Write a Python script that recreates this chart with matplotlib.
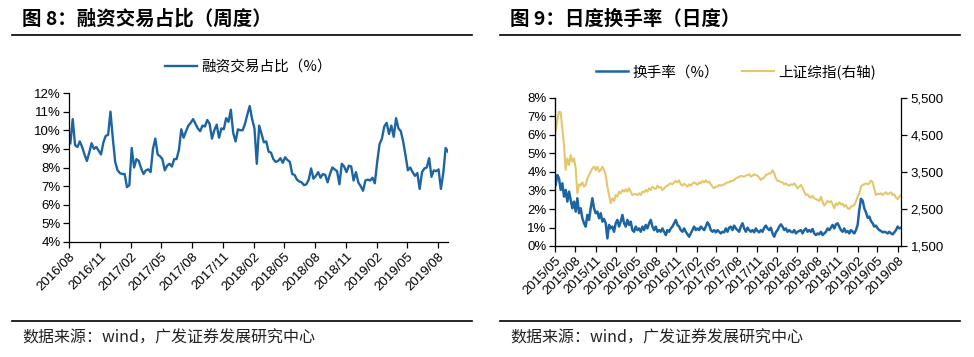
import numpy as np
import pandas as pd
import matplotlib
matplotlib.use('Agg')
import matplotlib.pyplot as plt
import matplotlib.dates as mdates
from matplotlib.lines import Line2D
from matplotlib.ticker import FuncFormatter, MultipleLocator

plt.rcParams['font.family'] = ['Liberation Sans', 'Noto Sans CJK SC', 'DejaVu Sans']
CJK = ['Noto Sans CJK SC', 'DejaVu Sans']

# 图8 融资交易占比（周度），单位 %
margin_share = [
    9.3, 10.6, 9.2, 9.1, 9.4, 9.1, 8.7, 8.35, 8.8, 9.3,
    9.0, 9.1, 8.9, 8.7, 9.35, 9.7, 9.75, 11.0, 9.55, 8.3,
    7.85, 7.7, 7.65, 7.65, 6.95, 7.05, 9.05, 8.0, 8.45, 8.35,
    7.95, 7.65, 7.85, 7.9, 7.75, 9.0, 9.55, 8.7, 8.6, 8.45,
    7.85, 8.1, 8.2, 8.05, 8.45, 8.45, 8.95, 10.05, 9.6, 9.95,
    10.25, 10.4, 10.6, 10.35, 10.1, 9.95, 10.25, 10.2, 10.55, 10.35,
    9.55, 10.0, 10.3, 9.6, 10.1, 10.05, 10.65, 10.45, 11.1, 9.85,
    9.4, 10.05, 10.0, 10.0, 10.35, 10.85, 11.3, 10.6,
    10.1, 8.2, 10.25, 9.8, 9.35, 9.4, 8.85, 8.8, 8.45, 8.3,
    8.35, 8.5, 8.25, 8.55, 8.4, 8.3, 7.65, 7.6, 7.35, 7.25,
    7.2, 7.05, 7.1, 7.35, 7.95, 7.4, 7.55, 7.75, 7.45, 7.65,
    7.6, 7.2, 7.65, 8.0, 7.9, 7.8, 7.1, 8.2, 8.05, 7.75,
    8.1, 8.05, 7.3, 7.75, 7.2, 7.0, 6.75, 7.3, 7.35, 7.3,
    7.45, 7.15, 8.3, 9.25, 9.55, 10.2, 10.4, 9.8, 10.25, 9.65,
    10.65, 10.1, 9.95, 9.4, 8.65, 7.85, 8.0, 7.75, 7.55, 7.7,
    6.85, 7.75, 7.95, 8.0, 8.5, 7.5, 7.85, 7.8, 7.9, 6.85,
    7.7, 9.05, 8.85,
]
margin_start = '2016-08-05'

# 图9 换手率（%）与上证综指，按周取样
turnover = [
    3.30, 3.84, 3.66, 3.03, 3.39, 2.67, 3.03, 2.40, 2.94, 2.49,
    2.04, 2.40, 1.86, 2.58, 1.77, 2.04, 1.50, 1.23, 1.05, 1.68,
    1.41, 2.04, 2.58, 2.04, 1.77, 1.86, 1.50, 1.77, 1.32, 1.46,
    1.23, 0.41, 1.14, 0.95, 1.05, 0.77, 1.23, 1.41, 1.05, 1.32,
    1.68, 1.23, 1.05, 1.41, 1.14, 1.32, 0.86, 0.77, 1.05, 0.86,
    0.95, 0.77, 1.05, 0.86, 1.14, 0.95, 1.23, 1.41, 1.05, 0.86,
    1.05, 0.77, 0.86, 0.77, 0.95, 0.77, 0.59, 0.86, 0.77, 0.95,
    1.05, 1.23, 1.41, 1.14, 1.05, 0.86, 0.77, 0.95, 0.77, 0.63,
    0.50, 0.68, 0.86, 1.05, 0.86, 0.95, 0.86, 1.05, 0.95, 0.86,
    1.05, 1.28, 1.14, 0.86, 0.77, 0.86, 0.74, 0.86, 0.77, 0.68,
    0.77, 0.74, 0.95, 0.77, 0.99, 1.05, 0.86, 1.10, 0.95, 0.86,
    0.77, 1.05, 1.23, 0.95, 0.77, 0.99, 0.86, 0.77, 0.86, 0.74,
    0.95, 0.81, 0.74, 0.86, 0.77, 0.99, 1.10, 0.95, 0.86, 0.99,
    0.68, 0.50, 0.74, 0.86, 1.05, 1.17, 1.05, 0.86, 0.95, 0.77,
    0.86, 0.77, 0.74, 0.86, 0.68, 0.77, 0.81, 0.86, 0.68, 0.86,
    0.95, 0.77, 0.86, 0.77, 0.92, 0.68, 0.59, 0.68, 0.63, 0.77,
    0.59, 0.68, 0.77, 0.95, 0.86, 0.99, 1.14, 0.95, 1.17, 1.23,
    1.05, 0.86, 0.77, 0.95, 0.74, 0.81, 0.68, 0.86, 0.77, 0.68,
    0.86, 1.14, 1.95, 2.55, 2.45, 2.04, 1.82, 1.53, 1.59, 1.35,
    1.23, 1.05, 1.10, 0.95, 0.86, 0.81, 0.74, 0.77, 0.74, 0.68,
    0.77, 0.68, 0.63, 0.74, 0.86, 1.05, 0.95, 0.99,
]
sh_index = [
    4600, 4905, 5131, 5113, 4680, 4230, 3560, 3869, 3689, 3959,
    3779, 3869, 3599, 2923, 3167, 3131, 3221, 3104, 3149, 3329,
    3419, 3509, 3599, 3644, 3554, 3644, 3509, 3554, 3644, 3554,
    3419, 3104, 2878, 2653, 2788, 2716, 2878, 2833, 2968, 2923,
    3014, 2968, 3032, 2968, 3059, 2968, 2878, 2896, 2905, 2878,
    2923, 2878, 2968, 2950, 3014, 2968, 3059, 3014, 3104, 3059,
    3041, 3131, 3077, 3095, 3014, 3059, 3104, 3131, 3167, 3194,
    3167, 3221, 3257, 3221, 3275, 3167, 3131, 3185, 3149, 3104,
    3167, 3131, 3185, 3221, 3194, 3149, 3221, 3194, 3257, 3221,
    3275, 3221, 3239, 3167, 3104, 3059, 3104, 3104, 3149, 3131,
    3149, 3167, 3194, 3221, 3221, 3257, 3257, 3284, 3329, 3347,
    3374, 3392, 3383, 3374, 3401, 3419, 3437, 3374, 3401, 3437,
    3419, 3401, 3347, 3284, 3329, 3347, 3419, 3437, 3464, 3464,
    3545, 3464, 3329, 3257, 3257, 3221, 3221, 3167, 3194, 3149,
    3131, 3167, 3149, 3194, 3131, 3059, 3104, 3149, 3077, 2968,
    2878, 2896, 2833, 2806, 2860, 2788, 2770, 2743, 2716, 2833,
    2698, 2590, 2653, 2716, 2680, 2716, 2626, 2518, 2653, 2608,
    2680, 2626, 2644, 2563, 2608, 2518, 2500, 2563, 2590, 2608,
    2698, 2833, 2923, 3104, 3149, 3167, 3194, 3167, 3194, 3270,
    3221, 3041, 2878, 2914, 2896, 2923, 2878, 2923, 2950, 2896,
    2923, 2950, 2878, 2896, 2806, 2770, 2833, 2878,
]
daily_start, daily_end = '2015-05-04', '2019-08-16'
index_ticks = [1500, 2500, 3500, 4500, 5500]

BLUE = '#1D64A2'
GOLD = '#E4C76C'
TICK_SIZE = 9.5

fig = plt.figure(figsize=(9.74, 3.57), dpi=100)
W, H = 974, 357


def fx(px):
    return px / W


def fy(py):
    return 1 - py / H


def style_axis(ax):
    for s in ('top', 'right'):
        ax.spines[s].set_visible(False)
    for s in ('left', 'bottom', 'right'):
        ax.spines[s].set_linewidth(0.9)
    ax.tick_params(direction='out', length=4, width=0.9, labelsize=TICK_SIZE, pad=2)
    ax.xaxis.set_major_locator(mdates.MonthLocator(bymonth=(2, 5, 8, 11)))
    ax.xaxis.set_major_formatter(mdates.DateFormatter('%Y/%m'))
    for lab in ax.get_xticklabels():
        lab.set_rotation(45)
        lab.set_ha('right')
        lab.set_rotation_mode('anchor')


# 页面装饰：标题、横线、来源
for x0, x1, title in [(12, 472, '图 8：融资交易占比（周度）'),
                      (500, 960, '图 9：日度换手率（日度）')]:
    fig.text(fx(x0 + 10), fy(19), title, family=CJK, fontsize=14, weight='bold',
             va='center', ha='left')
    fig.add_artist(Line2D([fx(x0), fx(x1)], [fy(35), fy(35)], color='black', lw=1.2))
    fig.add_artist(Line2D([fx(x0), fx(x1)], [fy(321), fy(321)], color='black', lw=1.2))
    fig.text(fx(x0 + 10), fy(338), '数据来源：wind，广发证券发展研究中心', family=CJK,
             fontsize=11.5, va='center', ha='left', color='#222222')

# 左图
ax1 = fig.add_axes([fx(69), fy(242), fx(448 - 69), (242 - 93) / H])
d1 = pd.date_range(margin_start, periods=len(margin_share), freq='7D')
ax1.plot(d1, margin_share, color=BLUE, lw=1.7, label='融资交易占比（%）')
ax1.set_ylim(4, 12)
ax1.yaxis.set_major_locator(MultipleLocator(1))
ax1.yaxis.set_major_formatter(FuncFormatter(lambda v, p: f'{v:.0f}%'))
ax1.set_xlim(pd.Timestamp('2016-08-01'), d1[-1])
style_axis(ax1)
ax1.legend(loc='center', bbox_to_anchor=(fx(248), fy(67)), bbox_transform=fig.transFigure,
           frameon=False, handlelength=2.2, handletextpad=0.3,
           prop={'family': CJK, 'size': 10.5, 'weight': 'medium'})

# 右图
ax2 = fig.add_axes([fx(555), fy(246), fx(901 - 555), (246 - 98) / H])
d2 = pd.date_range(daily_start, daily_end, periods=len(turnover))
ax3 = ax2.twinx()
l_idx, = ax3.plot(d2, sh_index, color=GOLD, lw=1.5, label='上证综指(右轴)')
l_to, = ax2.plot(d2, turnover, color=BLUE, lw=1.8, label='换手率（%）')
ax2.set_zorder(ax3.get_zorder() + 1)
ax2.patch.set_visible(False)
ax2.set_ylim(0, 8)
ax2.yaxis.set_major_locator(MultipleLocator(1))
ax2.yaxis.set_major_formatter(FuncFormatter(lambda v, p: f'{v:.0f}%'))
ax2.set_xlim(pd.Timestamp('2015-05-01'), d2[-1])
style_axis(ax2)
ax3.set_ylim(1500, 5500)
ax3.set_yticks(index_ticks)
ax3.yaxis.set_major_formatter(FuncFormatter(lambda v, p: f'{v:,.0f}'))
ax3.spines['top'].set_visible(False)
ax3.spines['right'].set_linewidth(0.9)
ax3.tick_params(direction='out', length=4, width=0.9, labelsize=TICK_SIZE, pad=3)
ax2.legend([l_to, l_idx], ['换手率（%）', '上证综指(右轴)'], loc='center', ncol=2,
           bbox_to_anchor=(fx(736), fy(72)), bbox_transform=fig.transFigure, frameon=False,
           handlelength=2.2, handletextpad=0.3, columnspacing=1.6,
           prop={'family': CJK, 'size': 10.5, 'weight': 'medium'})

fig.savefig('out.png', dpi=100)
